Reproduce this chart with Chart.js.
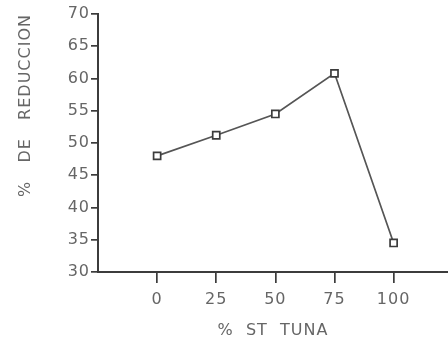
<!DOCTYPE html>
<html lang="es">
<head>
<meta charset="UTF-8">
<title>% de reducción vs % ST tuna</title>
<script src="https://cdn.jsdelivr.net/npm/chart.js"></script>
<style>
    html, body { margin: 0; padding: 0; background: #fff; }
    #wrap { width: 448px; height: 340px; }
</style>
</head>
<body>
<div id="wrap"><canvas id="chart"></canvas></div>
<script>
    // Data
    const stTuna = [0, 25, 50, 75, 100];
    const reduccion = [48.0, 51.2, 54.5, 60.8, 34.5];
    const xTicks = [0, 25, 50, 75, 100];

    const ink = '#3c3c3c';
    const lineInk = '#555';
    const textInk = '#666';
    const font = { family: 'DejaVu Sans', size: 16 };

    // wider letter spacing like the old lettering guide text
    const spacing = {
        id: 'spacing',
        beforeDraw(chart) { chart.ctx.letterSpacing = '1px'; },
        afterDraw(chart) { chart.ctx.letterSpacing = '0px'; }
    };

    new Chart(document.getElementById('chart'), {
        type: 'line',
        data: {
            datasets: [{
                data: stTuna.map((x, i) => ({ x: x, y: reduccion[i] })),
                borderColor: lineInk,
                borderWidth: 1.7,
                pointStyle: 'rect',
                pointRadius: 5,
                pointBorderWidth: 1.7,
                pointBorderColor: ink,
                pointBackgroundColor: '#fff',
                tension: 0
            }]
        },
        options: {
            responsive: true,
            maintainAspectRatio: false,
            animation: false,
            layout: { autoPadding: false, padding: { top: 14, left: 0, right: 0, bottom: 0 } },
            plugins: { legend: { display: false }, tooltip: { enabled: false } },
            scales: {
                x: {
                    type: 'linear',
                    min: -25,
                    max: 123,
                    afterBuildTicks: s => { s.ticks = xTicks.map(v => ({ value: v })); },
                    afterFit: s => { s.height = 68; },
                    grid: { drawOnChartArea: false, tickLength: 11, color: ink, lineWidth: 1.7 },
                    border: { color: ink, width: 2 },
                    ticks: { color: textInk, font: font, padding: 7, maxRotation: 0 },
                    title: { display: true, text: '%  ST  TUNA', color: textInk, font: font, padding: { top: 4, bottom: 0 } }
                },
                y: {
                    min: 30,
                    max: 70,
                    afterFit: s => { s.width = 98; },
                    grid: { drawOnChartArea: false, tickLength: 7, color: ink, lineWidth: 1.7 },
                    border: { color: ink, width: 2 },
                    ticks: { stepSize: 5, color: textInk, font: font, padding: 1 },
                    title: { display: true, text: '%   DE   REDUCCION', color: textInk, font: font, align: 'end', padding: { top: 16 } }
                }
            }
        },
        plugins: [spacing]
    });
</script>
</body>
</html>
